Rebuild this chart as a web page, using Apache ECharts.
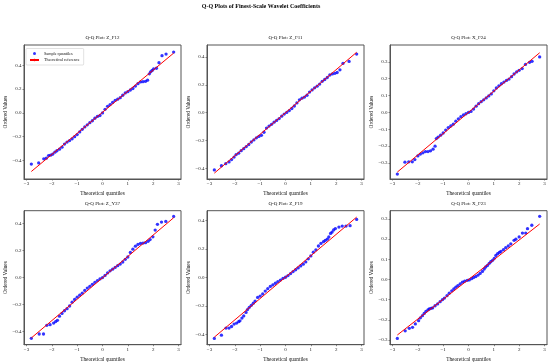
<!DOCTYPE html>
<html><head><meta charset="utf-8">
<script src="https://cdn.jsdelivr.net/npm/echarts@6/dist/echarts.min.js"></script>
<style>html,body{margin:0;padding:0;background:#fff}#c{width:550px;height:363px}</style>
</head><body><div id="c"></div>
<script>
// ---- data ----
const titles = ["Q-Q Plot: Z_F12","Q-Q Plot: Z_F11","Q-Q Plot: X_F24","Q-Q Plot: Z_Y37","Q-Q Plot: Z_F19","Q-Q Plot: X_F23"];
const xTicks = [-3,-2,-1,0,1,2,3];
const yTicksA = [-0.4,-0.2,0.0,0.2,0.4];
const yTicksB = [-0.3,-0.2,-0.1,0.0,0.1,0.2,0.3];

const p1_q = [-2.81,-2.52,-2.32,-2.22,-2.13,-2.05,-1.97,-1.88,-1.8,-1.7,-1.6,-1.5,-1.4,-1.3,-1.2,-1.1,-1.0,-0.9,-0.8,-0.7,-0.6,-0.5,-0.4,-0.3,-0.2,-0.1,0.0,0.1,0.2,0.3,0.4,0.5,0.6,0.7,0.8,0.9,1.0,1.1,1.2,1.3,1.4,1.5,1.6,1.7,1.78,1.85,1.9,1.96,2.02,2.13,2.23,2.35,2.51,2.81];
const p1_v = [-0.43,-0.42,-0.386,-0.38,-0.358,-0.355,-0.347,-0.33,-0.318,-0.305,-0.288,-0.262,-0.245,-0.232,-0.218,-0.2,-0.182,-0.16,-0.138,-0.118,-0.1,-0.082,-0.066,-0.045,-0.03,-0.022,0.0,0.03,0.055,0.07,0.088,0.105,0.115,0.128,0.148,0.168,0.178,0.192,0.205,0.225,0.245,0.26,0.262,0.265,0.275,0.328,0.345,0.356,0.37,0.375,0.422,0.48,0.494,0.511];

const p2_q = [-2.81,-2.53,-2.36,-2.23,-2.13,-2.03,-1.95,-1.85,-1.75,-1.65,-1.55,-1.45,-1.35,-1.25,-1.15,-1.05,-0.95,-0.85,-0.75,-0.65,-0.55,-0.45,-0.35,-0.25,-0.15,-0.05,0.05,0.15,0.25,0.35,0.45,0.55,0.65,0.75,0.85,0.95,1.05,1.15,1.25,1.35,1.45,1.55,1.65,1.75,1.85,1.95,2.04,2.15,2.27,2.51,2.81];
const p2_v = [-0.41,-0.38,-0.365,-0.353,-0.336,-0.318,-0.3,-0.29,-0.272,-0.258,-0.243,-0.228,-0.21,-0.195,-0.18,-0.17,-0.162,-0.14,-0.11,-0.096,-0.083,-0.068,-0.055,-0.042,-0.025,-0.01,0.002,0.015,0.03,0.048,0.07,0.092,0.104,0.112,0.125,0.148,0.163,0.178,0.19,0.205,0.225,0.238,0.252,0.27,0.278,0.282,0.288,0.307,0.353,0.367,0.42];

const p3_q = [-2.81,-2.51,-2.36,-2.22,-2.12,-2.0,-1.9,-1.8,-1.7,-1.6,-1.5,-1.4,-1.32,-1.27,-1.2,-1.1,-1.0,-0.9,-0.8,-0.7,-0.6,-0.5,-0.4,-0.3,-0.2,-0.1,0.0,0.1,0.2,0.3,0.4,0.5,0.6,0.7,0.8,0.9,1.0,1.1,1.2,1.3,1.4,1.5,1.6,1.7,1.8,1.9,2.0,2.12,2.25,2.41,2.51,2.81];
const p3_v = [-0.366,-0.295,-0.293,-0.293,-0.28,-0.258,-0.247,-0.24,-0.232,-0.232,-0.228,-0.218,-0.2,-0.155,-0.146,-0.135,-0.122,-0.105,-0.09,-0.08,-0.07,-0.052,-0.038,-0.025,-0.015,-0.008,0.0,0.006,0.02,0.037,0.052,0.064,0.075,0.086,0.098,0.11,0.128,0.145,0.158,0.17,0.18,0.19,0.198,0.212,0.228,0.24,0.25,0.26,0.285,0.297,0.303,0.329];

const p4_q = [-2.81,-2.5,-2.33,-2.2,-2.07,-1.93,-1.85,-1.78,-1.7,-1.6,-1.5,-1.4,-1.3,-1.2,-1.1,-1.0,-0.9,-0.8,-0.7,-0.6,-0.5,-0.4,-0.3,-0.2,-0.1,0.0,0.1,0.2,0.3,0.4,0.5,0.6,0.7,0.8,0.9,1.0,1.1,1.2,1.3,1.4,1.5,1.6,1.7,1.8,1.88,1.99,2.08,2.17,2.33,2.5,2.81];
const p4_v = [-0.449,-0.417,-0.417,-0.353,-0.348,-0.336,-0.325,-0.316,-0.285,-0.265,-0.245,-0.23,-0.21,-0.182,-0.162,-0.145,-0.13,-0.115,-0.095,-0.078,-0.065,-0.05,-0.035,-0.022,-0.01,0.0,0.016,0.034,0.05,0.062,0.075,0.088,0.1,0.115,0.135,0.152,0.185,0.21,0.232,0.245,0.252,0.255,0.258,0.268,0.281,0.301,0.351,0.393,0.41,0.415,0.452];

const p5_q = [-2.81,-2.53,-2.35,-2.23,-2.13,-2.03,-1.93,-1.85,-1.8,-1.72,-1.65,-1.56,-1.5,-1.43,-1.35,-1.27,-1.2,-1.1,-1.0,-0.9,-0.8,-0.7,-0.6,-0.5,-0.4,-0.3,-0.2,-0.1,0.0,0.1,0.2,0.3,0.4,0.5,0.6,0.7,0.8,0.9,1.0,1.1,1.2,1.3,1.4,1.5,1.57,1.65,1.71,1.78,1.84,1.9,1.97,2.11,2.24,2.39,2.55,2.81];
const p5_v = [-0.428,-0.405,-0.355,-0.355,-0.344,-0.327,-0.32,-0.31,-0.304,-0.285,-0.27,-0.245,-0.225,-0.209,-0.195,-0.18,-0.165,-0.14,-0.13,-0.115,-0.095,-0.078,-0.062,-0.052,-0.04,-0.028,-0.018,-0.006,0.002,0.014,0.028,0.042,0.055,0.068,0.082,0.094,0.11,0.132,0.152,0.178,0.195,0.222,0.24,0.252,0.261,0.27,0.285,0.31,0.32,0.335,0.344,0.355,0.362,0.362,0.365,0.409];

const p6_q = [-2.81,-2.5,-2.34,-2.21,-2.1,-1.97,-1.9,-1.82,-1.75,-1.68,-1.6,-1.55,-1.48,-1.42,-1.32,-1.22,-1.12,-1.03,-0.95,-0.85,-0.76,-0.66,-0.58,-0.5,-0.42,-0.33,-0.24,-0.15,-0.05,0.03,0.12,0.2,0.29,0.38,0.46,0.55,0.62,0.68,0.75,0.82,0.88,0.95,1.02,1.08,1.15,1.22,1.28,1.38,1.47,1.57,1.67,1.8,1.87,2.0,2.13,2.26,2.33,2.5,2.81];
const p6_v = [-0.292,-0.254,-0.242,-0.237,-0.22,-0.204,-0.19,-0.179,-0.168,-0.158,-0.15,-0.146,-0.143,-0.141,-0.13,-0.121,-0.11,-0.1,-0.092,-0.08,-0.068,-0.056,-0.047,-0.038,-0.03,-0.022,-0.013,-0.008,-0.004,-0.002,0.004,0.01,0.015,0.022,0.03,0.04,0.052,0.062,0.07,0.08,0.088,0.095,0.105,0.119,0.128,0.134,0.139,0.148,0.158,0.166,0.177,0.194,0.2,0.211,0.23,0.23,0.252,0.269,0.313];

// reference line endpoints [x0, x1], [y0, y1]
const refX = [-2.81, 2.81];
const ref1 = [-0.492, 0.502];
const ref2 = [-0.433, 0.433];
const ref3 = [-0.354, 0.354];
const ref4 = [-0.446, 0.442];
const ref5 = [-0.419, 0.425];
const ref6 = [-0.275, 0.275];

// ---- layout ----
const FONT = "'Liberation Serif','Times New Roman',serif";
const panels = [
  {q:p1_q, v:p1_v, ref:ref1, yt:yTicksA, ymin:-0.555, ymax:0.57,  left:24,  top:45,    ng:14},
  {q:p2_q, v:p2_v, ref:ref2, yt:yTicksA, ymin:-0.475, ymax:0.485, left:207, top:45,    ng:16},
  {q:p3_q, v:p3_v, ref:ref3, yt:yTicksB, ymin:-0.395, ymax:0.40,  left:390, top:45,    ng:14},
  {q:p4_q, v:p4_v, ref:ref4, yt:yTicksA, ymin:-0.496, ymax:0.494, left:24,  top:210.7, ng:16},
  {q:p5_q, v:p5_v, ref:ref5, yt:yTicksA, ymin:-0.472, ymax:0.47,  left:207, top:210.7, ng:16},
  {q:p6_q, v:p6_v, ref:ref6, yt:yTicksB, ymin:-0.323, ymax:0.341, left:390, top:210.7, ng:14}
];
const W = 157, H = 134;
const minus = s => s.replace('-', '\u2212');

const grid = [], xAxis = [], yAxis = [], series = [], graphic = [];
graphic.push({type:'text', x:261, y:6, style:{text:'Q-Q Plots of Finest-Scale Wavelet Coefficients', font:'bold 6px '+FONT, fill:'#000', textAlign:'center', textVerticalAlign:'middle', align:'center', verticalAlign:'middle'}});

panels.forEach((p, i) => {
  grid.push({left:p.left, top:p.top, width:W, height:H, show:true, borderColor:'#555', borderWidth:1, backgroundColor:'transparent', containLabel:false});
  graphic.push({type:'text', x:p.left + W/2, y:p.top - 7, style:{text:titles[i], font:'5px '+FONT, fill:'#111', textAlign:'center', textVerticalAlign:'middle', align:'center', verticalAlign:'middle'}});
  xAxis.push({
    gridIndex:i, type:'value', min:-3.1, max:3.1,
    name:'Theoretical quantiles', nameLocation:'middle', nameGap:12,
    nameTextStyle:{fontFamily:FONT, fontSize:5.3, color:'#111'},
    axisLine:{show:true, onZero:false, lineStyle:{color:'#555', width:1}},
    axisTick:{show:true, length:1.5, customValues:xTicks, lineStyle:{color:'#555', width:0.7}},
    axisLabel:{customValues:xTicks, fontFamily:FONT, fontSize:5, color:'#222', margin:2.5, formatter:v => minus(String(Math.round(v)))},
    splitLine:{show:false}
  });
  yAxis.push({
    gridIndex:i, type:'value', min:p.ymin, max:p.ymax,
    name:'Ordered Values', nameLocation:'middle', nameGap:p.ng,
    nameTextStyle:{fontFamily:FONT, fontSize:5.3, color:'#111'},
    axisLine:{show:true, onZero:false, lineStyle:{color:'#555', width:1}},
    axisTick:{show:true, length:1.5, customValues:p.yt, lineStyle:{color:'#555', width:0.7}},
    axisLabel:{customValues:p.yt, fontFamily:FONT, fontSize:5, color:'#222', margin:2.5, formatter:v => minus((Math.round(v*10)/10).toFixed(1))},
    splitLine:{show:false}
  });
  series.push({
    name:'Sample quantiles', type:'scatter', xAxisIndex:i, yAxisIndex:i,
    data:p.q.map((x, k) => [x, p.v[k]]),
    symbol:'circle', symbolSize:3.3, itemStyle:{color:'#0000ff'}, z:2, animation:false
  });
  series.push({
    name:'Theoretical reference', type:'line', xAxisIndex:i, yAxisIndex:i,
    data:refX.map((x, k) => [x, p.ref[k]]),
    symbol:'none', lineStyle:{color:'#ff0000', width:1}, itemStyle:{color:'#ff0000'}, z:3, animation:false
  });
});

const chart = echarts.init(document.getElementById('c'), null, {renderer:'canvas'});
chart.setOption({
  animation:false,
  backgroundColor:'#fff',
  grid, xAxis, yAxis, series, graphic,
  legend:{
    left:26, top:48.5, orient:'vertical', padding:[3,4,3,3], itemGap:2.5,
    itemWidth:9, itemHeight:3,
    borderColor:'#ccc', borderWidth:0.6, borderRadius:1, backgroundColor:'#fff',
    textStyle:{fontFamily:FONT, fontSize:4.2, color:'#111'},
    data:[{name:'Sample quantiles', icon:'circle'}, {name:'Theoretical reference'}],
    selectedMode:false
  }
});
</script>
</body></html>
